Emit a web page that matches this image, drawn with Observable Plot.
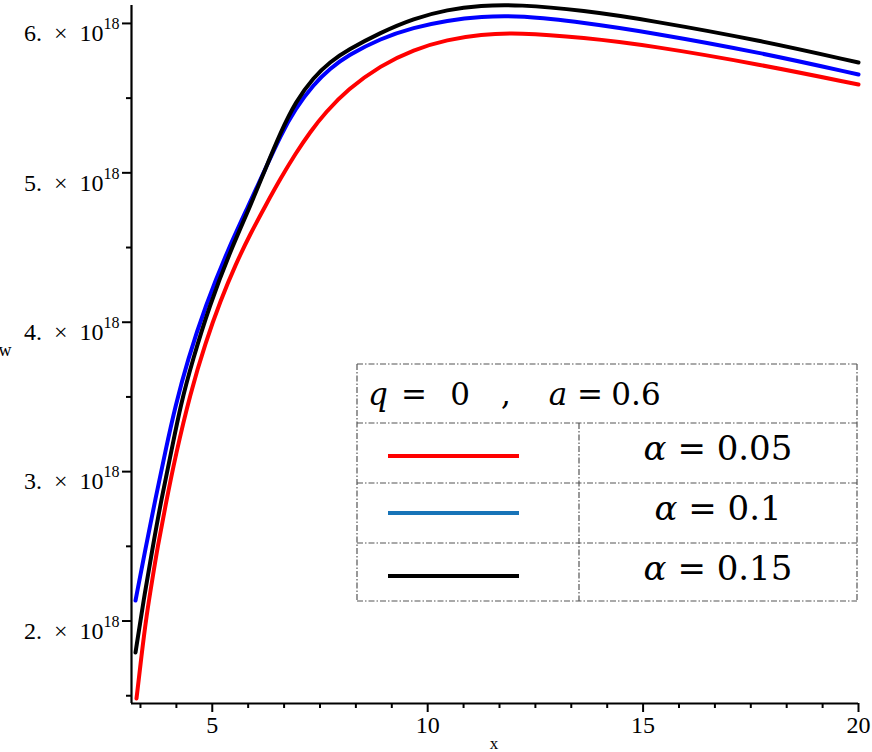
<!DOCTYPE html>
<html><head><meta charset="utf-8">
<script src="https://cdn.jsdelivr.net/npm/d3@7"></script>
<script src="https://cdn.jsdelivr.net/npm/@observablehq/plot@0.6"></script>
<style>
html,body{margin:0;padding:0;background:#fff;}
#chart{position:relative;width:872px;height:752px;}
</style></head><body><div id="chart"></div>
<script>
const xDomain = [3.125, 20];
const yDomain = [1.448e18, 6.12e18];
const xMajorTicks = [5, 10, 15, 20];
const xMinorTicks = [3.333, 4.167, 5.833, 6.667, 7.5, 8.333, 9.167, 10.833, 11.667, 12.5, 13.333, 14.167, 15.833, 16.667, 17.5, 18.333, 19.167];
const yMajorTicks = [2e18, 3e18, 4e18, 5e18, 6e18];
const yMinorTicks = [1.5e18, 2.5e18, 3.5e18, 4.5e18, 5.5e18];

const alphaLabels = ["0.05", "0.1", "0.15"];
const curveColors = ["#ff0000", "#0000ff", "#000000"];
const legendColors = ["#ff0000", "#1874b8", "#000000"];

// alpha = 0.05 (red)
const xRed = [3.241, 3.357, 3.473, 3.612, 3.729, 3.914, 4.146, 4.495, 4.843, 5.191, 5.539, 5.887, 6.236, 6.584, 6.932, 7.280, 7.628, 8.139, 8.905, 9.671, 10.460, 11.226, 12.085, 13.617, 15.172, 17.726, 20.0];
const wRed = [1.481, 1.769, 2.037, 2.285, 2.492, 2.773, 3.108, 3.530, 3.864, 4.145, 4.386, 4.594, 4.781, 4.962, 5.129, 5.277, 5.404, 5.558, 5.718, 5.825, 5.892, 5.926, 5.939, 5.906, 5.852, 5.725, 5.591];
// alpha = 0.1 (blue)
const xBlue = [3.218, 3.450, 3.682, 3.914, 4.146, 4.425, 4.843, 5.353, 5.841, 6.236, 6.584, 6.932, 7.350, 7.744, 8.139, 8.905, 9.671, 10.460, 11.226, 12.155, 13.617, 15.172, 17.726, 20.0];
const wBlue = [2.137, 2.486, 2.820, 3.141, 3.443, 3.744, 4.112, 4.480, 4.781, 5.029, 5.250, 5.430, 5.592, 5.700, 5.785, 5.899, 5.973, 6.020, 6.046, 6.053, 6.006, 5.939, 5.805, 5.658];
// alpha = 0.15 (black)
const xBlack = [3.218, 3.404, 3.612, 3.821, 4.054, 4.262, 4.541, 4.936, 5.423, 5.887, 6.236, 6.584, 6.932, 7.350, 7.744, 8.139, 8.905, 9.671, 10.460, 11.226, 12.085, 13.617, 15.172, 17.726, 20.0];
const wBlack = [1.789, 2.137, 2.486, 2.820, 3.141, 3.443, 3.744, 4.112, 4.480, 4.781, 5.029, 5.270, 5.475, 5.640, 5.745, 5.822, 5.939, 6.033, 6.093, 6.120, 6.127, 6.087, 6.020, 5.886, 5.738];
const wScale = 1e18;

const series = [[xRed, wRed], [xBlue, wBlue], [xBlack, wBlack]];
const rows = series.flatMap(([xs, ws], i) => xs.map((x, j) => ({x, w: ws[j] * wScale, s: alphaLabels[i]})));

const serif = "'Liberation Serif', 'Times New Roman', serif";

const chart = Plot.plot({
  width: 872, height: 752,
  marginLeft: 131, marginRight: 14, marginTop: 5, marginBottom: 49,
  style: {fontFamily: serif, fontSize: "24px", background: "#fff", color: "#000"},
  x: {domain: xDomain, axis: null},
  y: {domain: yDomain, axis: null},
  color: {domain: alphaLabels, range: curveColors},
  marks: [
    Plot.ruleX([xDomain[0]], {stroke: "#000", strokeWidth: 2.2}),
    Plot.ruleY([yDomain[0]], {stroke: "#000", strokeWidth: 2.2}),
    Plot.axisX(xMajorTicks, {tickSize: 9, tickPadding: 3, strokeWidth: 2, tickFormat: d => String(d), label: null}),
    Plot.axisX(xMinorTicks, {tickSize: 5, strokeWidth: 2, tickFormat: () => "", label: null}),
    Plot.axisY(yMajorTicks, {tickSize: 9, tickPadding: 3, strokeWidth: 2, tickFormat: d => `${d / wScale}.\u2002×\u2002${10}`, label: null}),
    Plot.axisY(yMinorTicks, {tickSize: 5, strokeWidth: 2, tickFormat: () => "", label: null}),
    Plot.line(rows, {x: "x", y: "w", z: "s", stroke: "s", strokeWidth: 4, curve: "basis"})
  ]
});
document.getElementById("chart").appendChild(chart);

const svg = d3.select(chart);
svg.selectAll('g[aria-label="x-axis tick label"] text').style("font-size", "24px").style("font-family", serif);
// superscript exponents on y tick labels
svg.selectAll('g[aria-label="y-axis tick label"] text').each(function () {
  const t = d3.select(this);
  if (!t.text()) return;
  t.style("font-size", "24px").style("font-family", serif).attr("dy", "10px");
  t.append("tspan").attr("dy", "-12px").style("font-size", "16px").text("18");
});

// axis labels
svg.append("text").attr("x", 5).attr("y", 356).attr("font-family", serif).attr("font-size", 18).text("w");
svg.append("text").attr("x", 494).attr("y", 749).attr("text-anchor", "middle").attr("font-family", serif).attr("font-size", 17).text("x");

// legend table
const lg = svg.append("g").attr("class", "legend");
const dash = {stroke: "#555", "stroke-width": 1.2, "stroke-dasharray": "6,2,1.5,2", fill: "none"};
const box = {x0: 357, x1: 857, y0: 364, rowsY: [423, 483, 543, 601], xDiv: 579};
function dline(x1, y1, x2, y2) {
  const l = lg.append("line").attr("x1", x1).attr("y1", y1).attr("x2", x2).attr("y2", y2);
  Object.entries(dash).forEach(([k, v]) => l.attr(k, v));
}
lg.append("rect").attr("x", box.x0).attr("y", box.y0).attr("width", box.x1 - box.x0).attr("height", box.rowsY[3] - box.y0).attr("fill", "#fff");
dline(box.x0, box.y0, box.x1, box.y0);
dline(box.x0, box.y0, box.x0, box.rowsY[3]);
dline(box.x1, box.y0, box.x1, box.rowsY[3]);
box.rowsY.forEach(y => dline(box.x0, y, box.x1, y));
dline(box.xDiv, box.rowsY[0], box.xDiv, box.rowsY[3]);

const lf = "'DejaVu Serif', serif";
[["q", 378, true], ["=", 414, false], ["0", 460, false], [",", 506, false], ["a", 558, true], ["=", 590, false], ["0.6", 636, false]]
  .forEach(([t, x, it]) => lg.append("text").attr("x", x).attr("y", 405)
    .attr("font-family", lf).attr("font-size", 31).attr("fill", "#000")
    .attr("font-style", it ? "italic" : "normal").text(t));

const baselines = [460, 520, 580];
const sampleY = [456, 513, 576];
alphaLabels.forEach((a, i) => {
  lg.append("line").attr("x1", 388).attr("x2", 519).attr("y1", sampleY[i]).attr("y2", sampleY[i])
    .attr("stroke", legendColors[i]).attr("stroke-width", 4.2);
  const t = lg.append("text").attr("x", 718).attr("y", baselines[i]).attr("text-anchor", "middle")
    .attr("font-family", lf).attr("font-size", 34).attr("fill", "#000");
  t.append("tspan").attr("font-style", "italic").text("α");
  t.append("tspan").text(" = " + a);
});
</script>
</body></html>
